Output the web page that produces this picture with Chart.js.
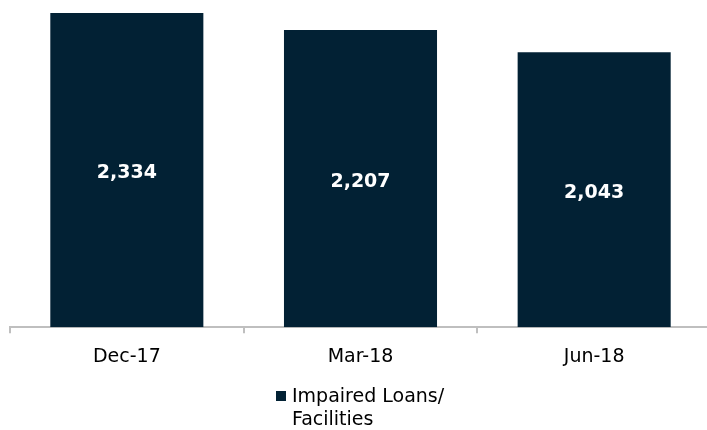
<!DOCTYPE html>
<html>
<head>
<meta charset="utf-8">
<script src="https://cdn.jsdelivr.net/npm/chart.js@4"></script>
<style>
    html, body { margin: 0; padding: 0; background: #fff; overflow: hidden; }
    #wrap { position: relative; width: 707px; height: 430px; overflow: hidden; }
    #chart { display: block; }
    #legend {
        position: absolute; left: 276px; top: 384px;
        display: flex; align-items: flex-start;
        font-family: "DejaVu Sans", sans-serif; font-size: 19px; line-height: 23px; color: #000;
    }
    #legend .box { width: 10px; height: 10px; margin: 7px 6px 0 0; flex: none; }
    #legend .txt { width: 175px; }
</style>
</head>
<body>
<div id="wrap">
    <canvas id="chart" width="711" height="430"></canvas>
    <div id="legend"></div>
</div>
<script>
// Данные графика
const categories = ['Dec-17', 'Mar-18', 'Jun-18'];
const impairedLoans = [2334, 2207, 2043];
const seriesLabel = 'Impaired Loans/ Facilities';
const barColor = '#022134';

// Подписи значений внутри столбцов
const barLabels = {
    id: 'barLabels',
    afterDatasetsDraw(chart) {
        const ctx = chart.ctx;
        const meta = chart.getDatasetMeta(0);
        ctx.save();
        ctx.fillStyle = '#ffffff';
        ctx.font = 'bold 19px "DejaVu Sans"';
        ctx.textAlign = 'center';
        ctx.textBaseline = 'middle';
        meta.data.forEach((bar, i) => {
            const { x, y, base } = bar.getProps(['x', 'y', 'base'], true);
            ctx.fillText(impairedLoans[i].toLocaleString('en-US'), x, (y + base) / 2 + 3);
        });
        ctx.restore();
    }
};

new Chart(document.getElementById('chart'), {
    type: 'bar',
    data: {
        labels: categories,
        datasets: [{
            label: seriesLabel,
            data: impairedLoans,
            backgroundColor: barColor,
            borderWidth: 0,
            categoryPercentage: 1,
            barPercentage: 0.655
        }]
    },
    options: {
        responsive: false,
        animation: false,
        layout: { padding: { left: 10, right: 0, top: 13, bottom: 50 } },
        plugins: { legend: { display: false }, tooltip: { enabled: false } },
        scales: {
            y: { display: false, min: 0, max: 2334 },
            x: {
                grid: { drawOnChartArea: false, tickLength: 6, color: '#bfbfbf', lineWidth: 2, offset: true },
                border: { color: '#bfbfbf', width: 2 },
                ticks: { color: '#000', font: { family: 'DejaVu Sans', size: 19 }, padding: 12 }
            }
        }
    },
    plugins: [barLabels]
});

// Легенда
document.getElementById('legend').innerHTML =
    `<span class="box" style="background:${barColor}"></span><span class="txt">${seriesLabel}</span>`;
</script>
</body>
</html>
